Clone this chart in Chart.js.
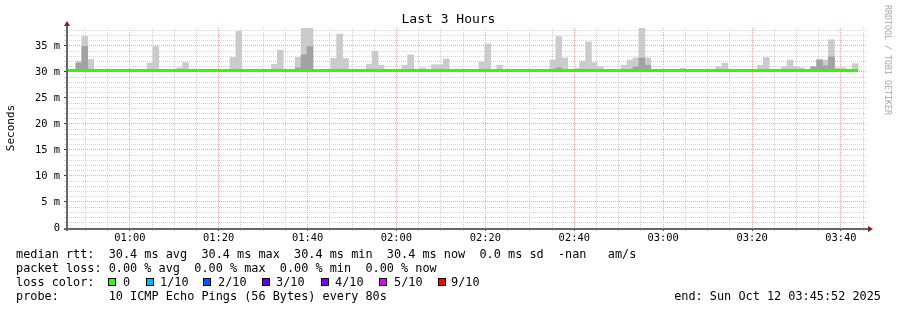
<!DOCTYPE html>
<html>
<head>
<meta charset="utf-8">
<script src="https://cdn.jsdelivr.net/npm/chart.js"></script>
<style>
html, body { margin: 0; padding: 0; background: #ffffff; }
#wrap { position: relative; width: 897px; height: 310px; overflow: hidden; background: #ffffff; }
#c { position: absolute; left: 0; top: 0; }
.t { position: absolute; font-family: "DejaVu Sans Mono", monospace; color: #000; white-space: pre; line-height: 14px; font-size: 11.85px; }
#title { left: 0; width: 897px; text-align: center; top: 11.4px; font-size: 13px; line-height: 15px; }
#wm { left: 893px; top: 5px; font-size: 8.3px; line-height: 10px; color: #a8a8a8; transform-origin: 0 0; transform: rotate(90deg); }
.box { position: absolute; width: 8px; height: 8px; box-sizing: border-box; border: 1px solid #000; }
</style>
</head>
<body>
<div id="wrap">
  <canvas id="c" width="897" height="310"></canvas>
  <div id="title" class="t">Last 3 Hours</div>
  <div id="wm" class="t">RRDTOOL / TOBI OETIKER</div>
  <div class="t" style="left:16px;top:247.2px;">median rtt:  30.4 ms avg  30.4 ms max  30.4 ms min  30.4 ms now  0.0 ms sd  -nan   am/s</div>
  <div class="t" style="left:16px;top:261.2px;">packet loss: 0.00 % avg  0.00 % max  0.00 % min  0.00 % now</div>
  <div class="t" style="left:16px;top:275.2px;">loss color:</div>
  <div id="lossrow"></div>
  <div class="t" style="left:16px;top:289.2px;">probe:       10 ICMP Echo Pings (56 Bytes) every 80s</div>
  <div class="t" style="right:16px;top:289.2px;">end: Sun Oct 12 03:45:52 2025</div>
</div>
<script>
// ---- time frame (seconds after midnight) ----
const viewStart = 2752;   // 00:45:52
const viewEnd = 13552;    // 03:45:52
const stepSeconds = 80;

// ---- median rtt (ms), one value per 80 s step starting 00:45:12 ----
const medianStart = 2712;
const medianRtt = [
  30.3,30.3,30.3,30.3,30.3,30.3,30.3,30.3,30.3,30.3,30.3,30.3,30.3,30.3,30.3,30.3,30.3,30.3,30.3,30.3,
  30.3,30.3,30.3,30.3,30.3,30.3,30.3,30.3,30.3,30.3,30.3,30.3,30.3,30.3,30.3,30.3,30.3,30.3,30.3,30.3,
  30.3,30.3,30.3,30.3,30.3,30.3,30.3,30.3,30.3,30.3,30.3,30.3,30.3,30.3,30.3,30.3,30.3,30.3,30.3,30.3,
  30.3,30.3,30.3,30.3,30.3,30.3,30.3,30.3,30.3,30.3,30.3,30.3,30.3,30.3,30.3,30.3,30.3,30.3,30.3,30.3,
  30.3,30.3,30.3,30.3,30.3,30.3,30.3,30.3,30.3,30.3,30.3,30.3,30.3,30.3,30.3,30.3,30.3,30.3,30.3,30.3,
  30.3,30.3,30.3,30.3,30.3,30.3,30.3,30.3,30.3,30.3,30.3,30.3,30.3,30.3,30.3,30.3,30.3,30.3,30.3,30.3,
  30.3,30.3,30.3,30.3,30.3,30.3,30.3,30.3,30.3,30.3,30.3,30.3,30.3,30.3
];

// ---- smoke (ping spread, ms); step k starts at smokeStepBase + 80*k ----
const smokeStepBase = 2872;  // 00:47:52
const smokeFloor = 30.3;
const outerSteps = [0,1,2,12,13,17,18,26,27,33,34,37,38,39,43,44,45,49,50,51,55,56,58,60,61,62,68,69,71,
  80,81,82,84,85,86,87,88,92,93,94,95,96,102,108,109,115,116,119,120,121,122,124,125,126,127,128,129,131];
const outerTop = [32.1,36.8,32.4,31.7,34.9,30.8,31.8,32.8,37.8,31.5,34.2,32.8,38.5,38.5,32.6,37.3,32.6,31.5,34.0,31.3,31.3,33.3,30.8,31.4,31.4,32.5,31.9,35.4,31.3,
  32.3,36.8,32.7,30.7,32.1,35.8,31.8,31.0,31.3,32.3,32.7,38.5,32.7,30.7,31.0,31.7,31.3,32.8,31.0,32.3,31.0,30.8,31.0,32.5,32.3,36.2,30.8,30.8,31.6];
const innerSteps = [0,1,37,38,39,81,94,95,96,124,125,126,127];
const innerTop = [31.7,34.9,30.8,33.3,34.9,30.8,31.0,32.7,31.3,31.0,32.2,31.2,32.9];

// ---- axes ----
const xGridStep = 300;
const xGridFirst = 3000;
const xGridLast = 13500;
const xTickValues = [3600,4800,6000,7200,8400,9600,10800,12000,13200];
const xTickLabels = ['01:00','01:20','01:40','02:00','02:20','02:40','03:00','03:20','03:40'];
const yMax = 38.46;
const yGridStep = 1;
const yTickValues = [0,5,10,15,20,25,30,35];
const yTickLabels = ['0','5 m','10 m','15 m','20 m','25 m','30 m','35 m'];

// ---- loss legend ----
const lossLabels = ['0','1/10','2/10','3/10','4/10','5/10','9/10'];
const lossColors = ['#26ff00','#00b8ff','#0059ff','#5e00ff','#7e00ff','#dd00ff','#ff0000'];
const lossBoxX = [108,146,203,262,321,379,438];
const lossLabelX = [123,160,218,276,335,394,451];

const row = document.getElementById('lossrow');
lossLabels.forEach((lab, i) => {
  const b = document.createElement('div');
  b.className = 'box';
  b.style.left = lossBoxX[i] + 'px';
  b.style.top = '278px';
  b.style.background = lossColors[i];
  row.appendChild(b);
  const t = document.createElement('div');
  t.className = 't';
  t.style.left = lossLabelX[i] + 'px';
  t.style.top = '275.2px';
  t.textContent = lab;
  row.appendChild(t);
});

// ---- build datasets ----
const medianPoints = [{x: medianStart, y: medianRtt[0]}];
medianRtt.forEach((v, i) => medianPoints.push({x: medianStart + stepSeconds * (i + 1), y: v}));
const outerPoints = outerSteps.map((k, i) => ({x: smokeStepBase + stepSeconds * k + stepSeconds / 2, y: [smokeFloor, outerTop[i]]}));
const innerPoints = innerSteps.map((k, i) => ({x: smokeStepBase + stepSeconds * k + stepSeconds / 2, y: [smokeFloor, innerTop[i]]}));

const xGrid = [];
for (let v = xGridFirst; v <= xGridLast; v += xGridStep) xGrid.push(v);
const yGrid = [];
for (let v = 0; v <= yMax; v += yGridStep) yGrid.push(v);

const MAJOR = '#f0a9a9', MINOR = '#d3d3d3', AXIS = '#666666', TICK = '#404040', ARROW = '#801f1f';
const tickFont = {family: 'DejaVu Sans Mono', size: 10.4};

const axesPlugin = {
  id: 'rrdAxes',
  afterDraw(chart) {
    const {ctx, chartArea: a} = chart;
    ctx.save();
    ctx.strokeStyle = AXIS;
    ctx.lineWidth = 2;
    ctx.beginPath();
    ctx.moveTo(a.left - 3, a.bottom + 1);
    ctx.lineTo(a.right + 2, a.bottom + 1);
    ctx.moveTo(a.left, a.bottom + 3);
    ctx.lineTo(a.left, a.top - 3);
    ctx.stroke();
    ctx.fillStyle = ARROW;
    ctx.beginPath();
    ctx.moveTo(a.right + 1, a.bottom - 2);
    ctx.lineTo(a.right + 6, a.bottom + 1);
    ctx.lineTo(a.right + 1, a.bottom + 4);
    ctx.closePath();
    ctx.fill();
    ctx.beginPath();
    ctx.moveTo(a.left - 3, a.top - 2);
    ctx.lineTo(a.left, a.top - 7);
    ctx.lineTo(a.left + 3, a.top - 2);
    ctx.closePath();
    ctx.fill();
    ctx.restore();
  }
};

new Chart(document.getElementById('c'), {
  type: 'bar',
  data: {
    datasets: [
      {type: 'line', label: 'median rtt', data: medianPoints, borderColor: '#26ff00', backgroundColor: '#26ff00',
       borderWidth: 3, pointRadius: 0, stepped: 'after', fill: false, clip: 0, order: 0, borderCapStyle: 'butt'},
      {label: 'smoke inner', data: innerPoints, backgroundColor: '#a2a2a2', borderWidth: 0, grouped: false,
       barPercentage: 1, categoryPercentage: 1, order: 1},
      {label: 'smoke outer', data: outerPoints, backgroundColor: '#cbcbcb', borderWidth: 0, grouped: false,
       barPercentage: 1, categoryPercentage: 1, order: 2}
    ]
  },
  options: {
    responsive: false,
    animation: false,
    devicePixelRatio: 1,
    events: [],
    layout: {padding: {left: 0, right: 30, top: 28, bottom: 62}},
    plugins: {legend: {display: false}, tooltip: {enabled: false}, title: {display: false}},
    scales: {
      x: {
        type: 'linear', min: viewStart, max: viewEnd, offset: false,
        afterFit(s) { s.height = 20; },
        afterBuildTicks(s) { s.ticks = xGrid.map(v => ({value: v})); },
        ticks: {autoSkip: false, maxRotation: 0, minRotation: 0, padding: 1.5, color: '#000', font: tickFont,
          callback(v) { const i = xTickValues.indexOf(v); return i >= 0 ? xTickLabels[i] : ''; }},
        grid: {offset: false, lineWidth: 1, drawTicks: true, tickLength: 3,
          color: c => (c.tick && xTickValues.includes(c.tick.value)) ? MAJOR : MINOR,
          tickColor: c => (c.tick && xTickValues.includes(c.tick.value)) ? TICK : MINOR},
        border: {display: false, dash: [1, 1]}
      },
      y: {
        type: 'linear', min: 0, max: yMax,
        afterFit(s) { s.width = 67; },
        afterBuildTicks(s) { s.ticks = yGrid.map(v => ({value: v})); },
        ticks: {autoSkip: false, padding: 4, color: '#000', font: tickFont,
          callback(v) { const i = yTickValues.indexOf(v); return i >= 0 ? yTickLabels[i] : ''; }},
        grid: {lineWidth: 1, drawTicks: true, tickLength: 3,
          color: c => (c.tick && yTickValues.includes(c.tick.value)) ? MAJOR : MINOR,
          tickColor: c => (c.tick && yTickValues.includes(c.tick.value)) ? TICK : MINOR},
        border: {display: false, dash: [1, 1]},
        title: {display: true, text: 'Seconds', color: '#000', font: {family: 'DejaVu Sans Mono', size: 11}, padding: {top: 4.5, bottom: 0}}
      }
    }
  },
  plugins: [axesPlugin]
});
</script>
</body>
</html>
